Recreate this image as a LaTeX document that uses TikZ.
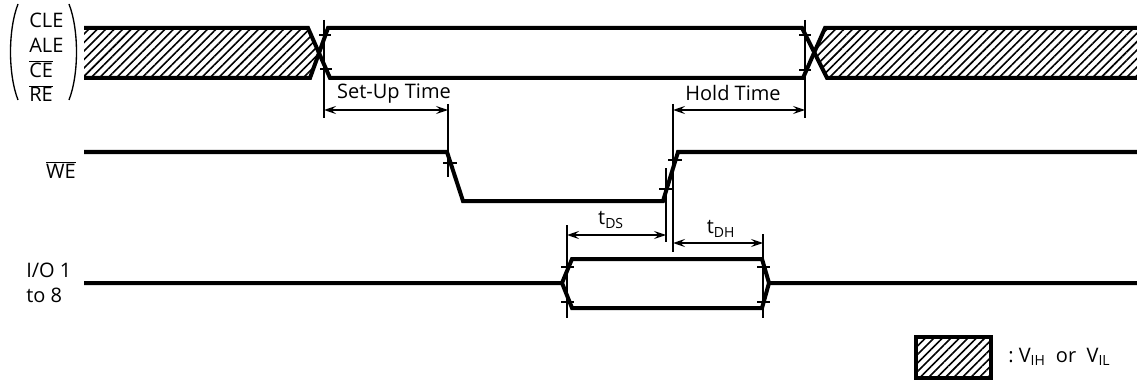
\documentclass[tikz,border=0pt]{standalone}
\usepackage{fontspec}
\setmainfont{Open Sans}
\usetikzlibrary{patterns.meta,arrows.meta}
\newcommand{\ovl}[1]{$\overline{\mbox{#1}}$}

\begin{document}
\begin{tikzpicture}[x=0.75pt,y=0.75pt,yscale=-1,xscale=1,
  every node/.style={font=\fontsize{15}{18}\selectfont},
  sig/.style={line width=3pt,line join=miter},
  thin/.style={line width=1.1pt},
  dim/.style={line width=1.1pt,{Stealth[length=9pt,width=6pt,inset=3.5pt]}-{Stealth[length=9pt,width=6pt,inset=3.5pt]}},
  hatch/.style={pattern={Lines[angle=45,distance=4.5pt,line width=1.2pt]}}]
\useasboundingbox (0,0) rectangle (1137,381);

%Shape: hatched bus areas
\fill [hatch] (84,28) -- (308,28) -- (319,53) -- (310,78) -- (84,78) -- cycle ;
\fill [hatch] (825,28) -- (1137,28) -- (1137,78) -- (827,78) -- (814,53) -- cycle ;
%Straight Lines: CLE/ALE/CE/RE bus
\draw [sig] (84,28) -- (308,28) -- (330,78) -- (803,78) -- (825,28) -- (1137,28) ;
\draw [sig] (84,78) -- (310,78) -- (328,28) -- (802,28) -- (827,78) -- (1137,78) ;
%Straight Lines: WE
\draw [sig] (84,152) -- (447,152) -- (463,201) -- (663,201) -- (678,152) -- (1137,152) ;
%Straight Lines: I/O
\draw [sig] (84,283) -- (562,283) -- (572,259) -- (762,259) -- (769,283) -- (1137,283) ;
\draw [sig] (562,283) -- (572,308) -- (762,308) -- (769,283) ;

%Straight Lines: timing marks
\draw [thin] (324,20) -- (324,118) ;
\draw [thin] (319,35) -- (331,35) (320,69) -- (332,69) ;
\draw [thin] (805,20) -- (805,118) ;
\draw [thin] (799,35) -- (811,35) (799,70) -- (811,70) ;
\draw [thin] (448,104) -- (448,177) ;
\draw [thin] (443,163) -- (457,163) ;
\draw [thin] (673,104) -- (673,252) ;
\draw [thin] (668,160) -- (682,160) (659,189) -- (673,189) ;
\draw [thin] (666,168) -- (666,242) ;
\draw [thin] (567,225) -- (567,318) ;
\draw [thin] (561,267) -- (574,267) (561,302) -- (574,302) ;
\draw [thin] (763,234) -- (763,318) ;
\draw [thin] (757,267) -- (770,267) (757,302) -- (770,302) ;

%Dimension arrows
\coordinate (suA) at (324,110) ; \coordinate (suB) at (448,110) ;
\coordinate (hdA) at (673,110) ; \coordinate (hdB) at (805,110) ;
\coordinate (dsA) at (567,235) ; \coordinate (dsB) at (666,235) ;
\coordinate (dhA) at (673,243) ; \coordinate (dhB) at (763,243) ;
\draw [dim] (suA) -- (suB) ;
\draw [dim] (hdA) -- (hdB) ;
\draw [dim] (dsA) -- (dsB) ;
\draw [dim] (dhA) -- (dhB) ;

%Shape: legend box
\draw [line width=2.3pt,hatch] (916,337) rectangle (991,378) ;

%Curve Lines: brackets round the control signals
\draw [line width=1pt] (18,4) .. controls (8,30) and (8,74) .. (18,100) ;
\draw [line width=1pt] (69,4) .. controls (79,30) and (79,74) .. (69,100) ;

% Text Node
\draw (29,28) node [anchor=base west][inner sep=0pt] (cle) {CLE};
% Text Node
\draw (29,53) node [anchor=base west][inner sep=0pt] (ale) {ALE};
% Text Node
\draw (29,78) node [anchor=base west][inner sep=0pt] (ce) {\ovl{CE}};
% Text Node
\draw (29,102) node [anchor=base west][inner sep=0pt] (re) {\ovl{RE}};
% Text Node
\draw (76,178) node [anchor=base east][inner sep=0pt] (we) {\ovl{WE}};
% Text Node
\draw (26,277) node [anchor=base west][inner sep=0pt] (io) {I/O 1};
% Text Node
\draw (26,302) node [anchor=base west][inner sep=0pt] (io8) {to 8};
% Text Node
\draw (394,94) node [inner sep=0.75pt] (setup) {Set-Up Time};
% Text Node
\draw (733,93) node [inner sep=0.75pt] (hold) {Hold Time};
% Text Node
\draw (611,220) node [inner sep=0.75pt] (tds) {t\textsubscript{DS}};
% Text Node
\draw (721,229) node [inner sep=0.75pt] (tdh) {t\textsubscript{DH}};
% Text Node
\draw (1007,357) node [anchor=west][inner sep=0.75pt] (leg) {:\ V\textsubscript{IH}\ \ or\ \ V\textsubscript{IL}};

\end{tikzpicture}
\end{document}
